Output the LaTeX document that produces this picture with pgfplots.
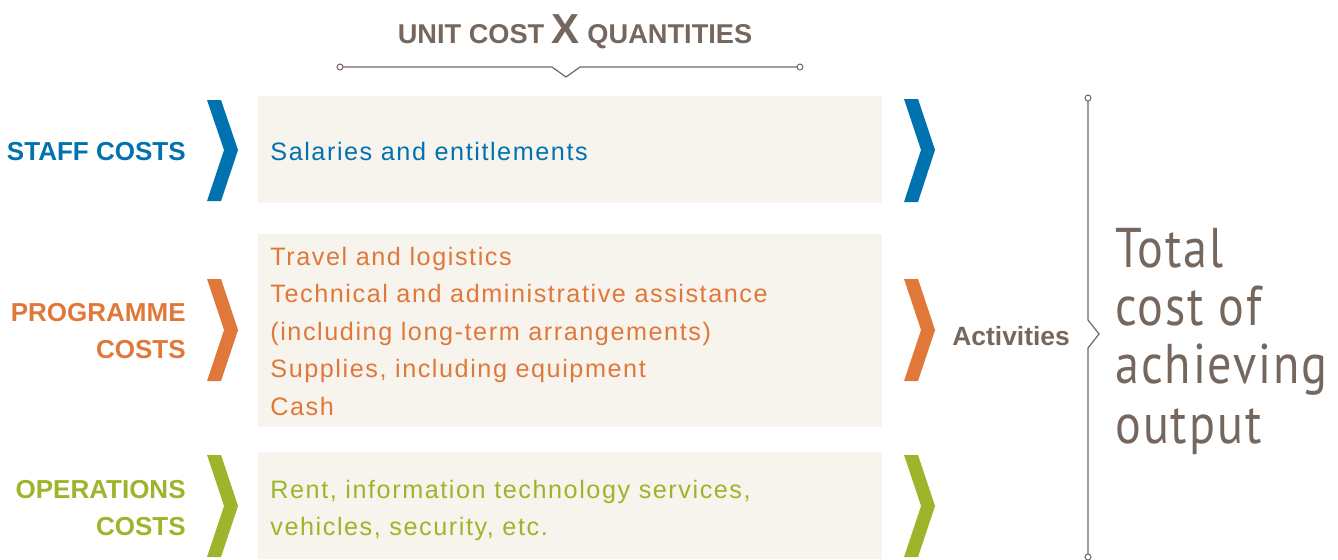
\documentclass[border=0pt]{standalone}
\usepackage{pgfplots}
\pgfplotsset{compat=1.18}
\usepackage{fontspec}
\setmainfont{PT Sans}
\newfontfamily\hd{Liberation Sans}
\newfontfamily\bodyfont[LetterSpace=6.2]{Liberation Sans}
\newfontfamily\bigfont[LetterSpace=4]{PT Sans}
\definecolor{cblue}{HTML}{0072B0}
\definecolor{corange}{HTML}{E0783A}
\definecolor{cgreen}{HTML}{9CB52A}
\definecolor{cgrey}{HTML}{75675D}
\definecolor{cbox}{HTML}{F7F4EE}
\newcommand{\fs}[1]{\fontsize{#1}{#1}\selectfont}
\newcommand{\bt}{\bodyfont\fs{12.6}}
\begin{document}
\begin{tikzpicture}
\begin{axis}[
    scale only axis,
    width=669pt, height=279.5pt,
    xmin=0, xmax=1338, ymin=0, ymax=559,
    y dir=reverse,
    hide axis,
    clip=false,
]
% panels
\addplot[fill=cbox, draw=none] coordinates {(258,96) (882,96) (882,203) (258,203)} --cycle;
\addplot[fill=cbox, draw=none] coordinates {(258,234) (882,234) (882,427) (258,427)} --cycle;
\addplot[fill=cbox, draw=none] coordinates {(258,452) (882,452) (882,559) (258,559)} --cycle;
% left chevrons
\addplot[fill=cblue, draw=none] coordinates {(207,100) (221,100) (238,150) (221,201) (207,201) (224,150)} --cycle;
\addplot[fill=corange, draw=none] coordinates {(207,279) (221,279) (238,330) (221,381) (207,381) (224,330)} --cycle;
\addplot[fill=cgreen, draw=none] coordinates {(207,455) (221,455) (238,506) (221,557) (207,557) (224,506)} --cycle;
% right chevrons
\addplot[fill=cblue, draw=none] coordinates {(904,99) (918,99) (935,150) (918,202) (904,202) (921,150)} --cycle;
\addplot[fill=corange, draw=none] coordinates {(904,279) (918,279) (935,330) (918,381) (904,381) (921,330)} --cycle;
\addplot[fill=cgreen, draw=none] coordinates {(904,455) (918,455) (935,506) (918,557) (904,557) (921,506)} --cycle;
% top rule
\addplot[cgrey, line width=0.6pt] coordinates {(343,67) (552,67) (566,77) (580,67) (797,67)};
\addplot[cgrey, only marks, mark=o, mark size=1.5pt, mark options={fill=white, line width=0.5pt}] coordinates {(340,67) (800,67)};
% bracket
\addplot[cgrey, line width=0.6pt] coordinates {(1088,101) (1088,320) (1099,334) (1088,348) (1088,554)};
\addplot[cgrey, only marks, mark=o, mark size=1.5pt, mark options={fill=white, line width=0.5pt}] coordinates {(1088,98) (1088,557)};
% title
\node[anchor=base, text=cgrey, inner sep=0pt] at (axis cs:575,43)
  {\hd\bfseries\fs{13.6}UNIT COST \fs{21}X\fs{13.6} QUANTITIES};
% left labels
\node[anchor=base east, text=cblue, inner sep=0pt] at (axis cs:186,160) {\hd\bfseries\fs{13}STAFF COSTS};
\node[anchor=base east, text=corange, inner sep=0pt] at (axis cs:186,321) {\hd\bfseries\fs{13}PROGRAMME};
\node[anchor=base east, text=corange, inner sep=0pt] at (axis cs:186,358) {\hd\bfseries\fs{13}COSTS};
\node[anchor=base east, text=cgreen, inner sep=0pt] at (axis cs:186,498) {\hd\bfseries\fs{13}OPERATIONS};
\node[anchor=base east, text=cgreen, inner sep=0pt] at (axis cs:186,535) {\hd\bfseries\fs{13}COSTS};
% panel text
\node[anchor=base west, text=cblue, inner sep=0pt] at (axis cs:270,160) {\bt Salaries and entitlements};
\node[anchor=base west, text=corange, inner sep=0pt] at (axis cs:270,265) {\bt Travel and logistics};
\node[anchor=base west, text=corange, inner sep=0pt] at (axis cs:270,302.5) {\bt Technical and administrative assistance};
\node[anchor=base west, text=corange, inner sep=0pt] at (axis cs:270,340) {\bt (including long-term arrangements)};
\node[anchor=base west, text=corange, inner sep=0pt] at (axis cs:270,377.5) {\bt Supplies, including equipment};
\node[anchor=base west, text=corange, inner sep=0pt] at (axis cs:270,415) {\bt Cash};
\node[anchor=base west, text=cgreen, inner sep=0pt] at (axis cs:270,498) {\bt Rent, information technology services,};
\node[anchor=base west, text=cgreen, inner sep=0pt] at (axis cs:270,535) {\bt vehicles, security, etc.};
% right side
\node[anchor=base west, text=cgrey, inner sep=0pt] at (axis cs:952,345) {\hd\bfseries\fs{13.2}Activities};
\node[anchor=base west, text=cgrey, inner sep=0pt] at (axis cs:1115,267) {\scalebox{0.86}[1]{\bigfont\fs{28}Total}};
\node[anchor=base west, text=cgrey, inner sep=0pt] at (axis cs:1115,325) {\scalebox{0.86}[1]{\bigfont\fs{28}cost of}};
\node[anchor=base west, text=cgrey, inner sep=0pt] at (axis cs:1115,383) {\scalebox{0.86}[1]{\bigfont\fs{28}achieving}};
\node[anchor=base west, text=cgrey, inner sep=0pt] at (axis cs:1115,443) {\scalebox{0.86}[1]{\bigfont\fs{28}output}};
\end{axis}
\pgfresetboundingbox
\path (current axis.south west) rectangle (current axis.north east);
\end{tikzpicture}
\end{document}
